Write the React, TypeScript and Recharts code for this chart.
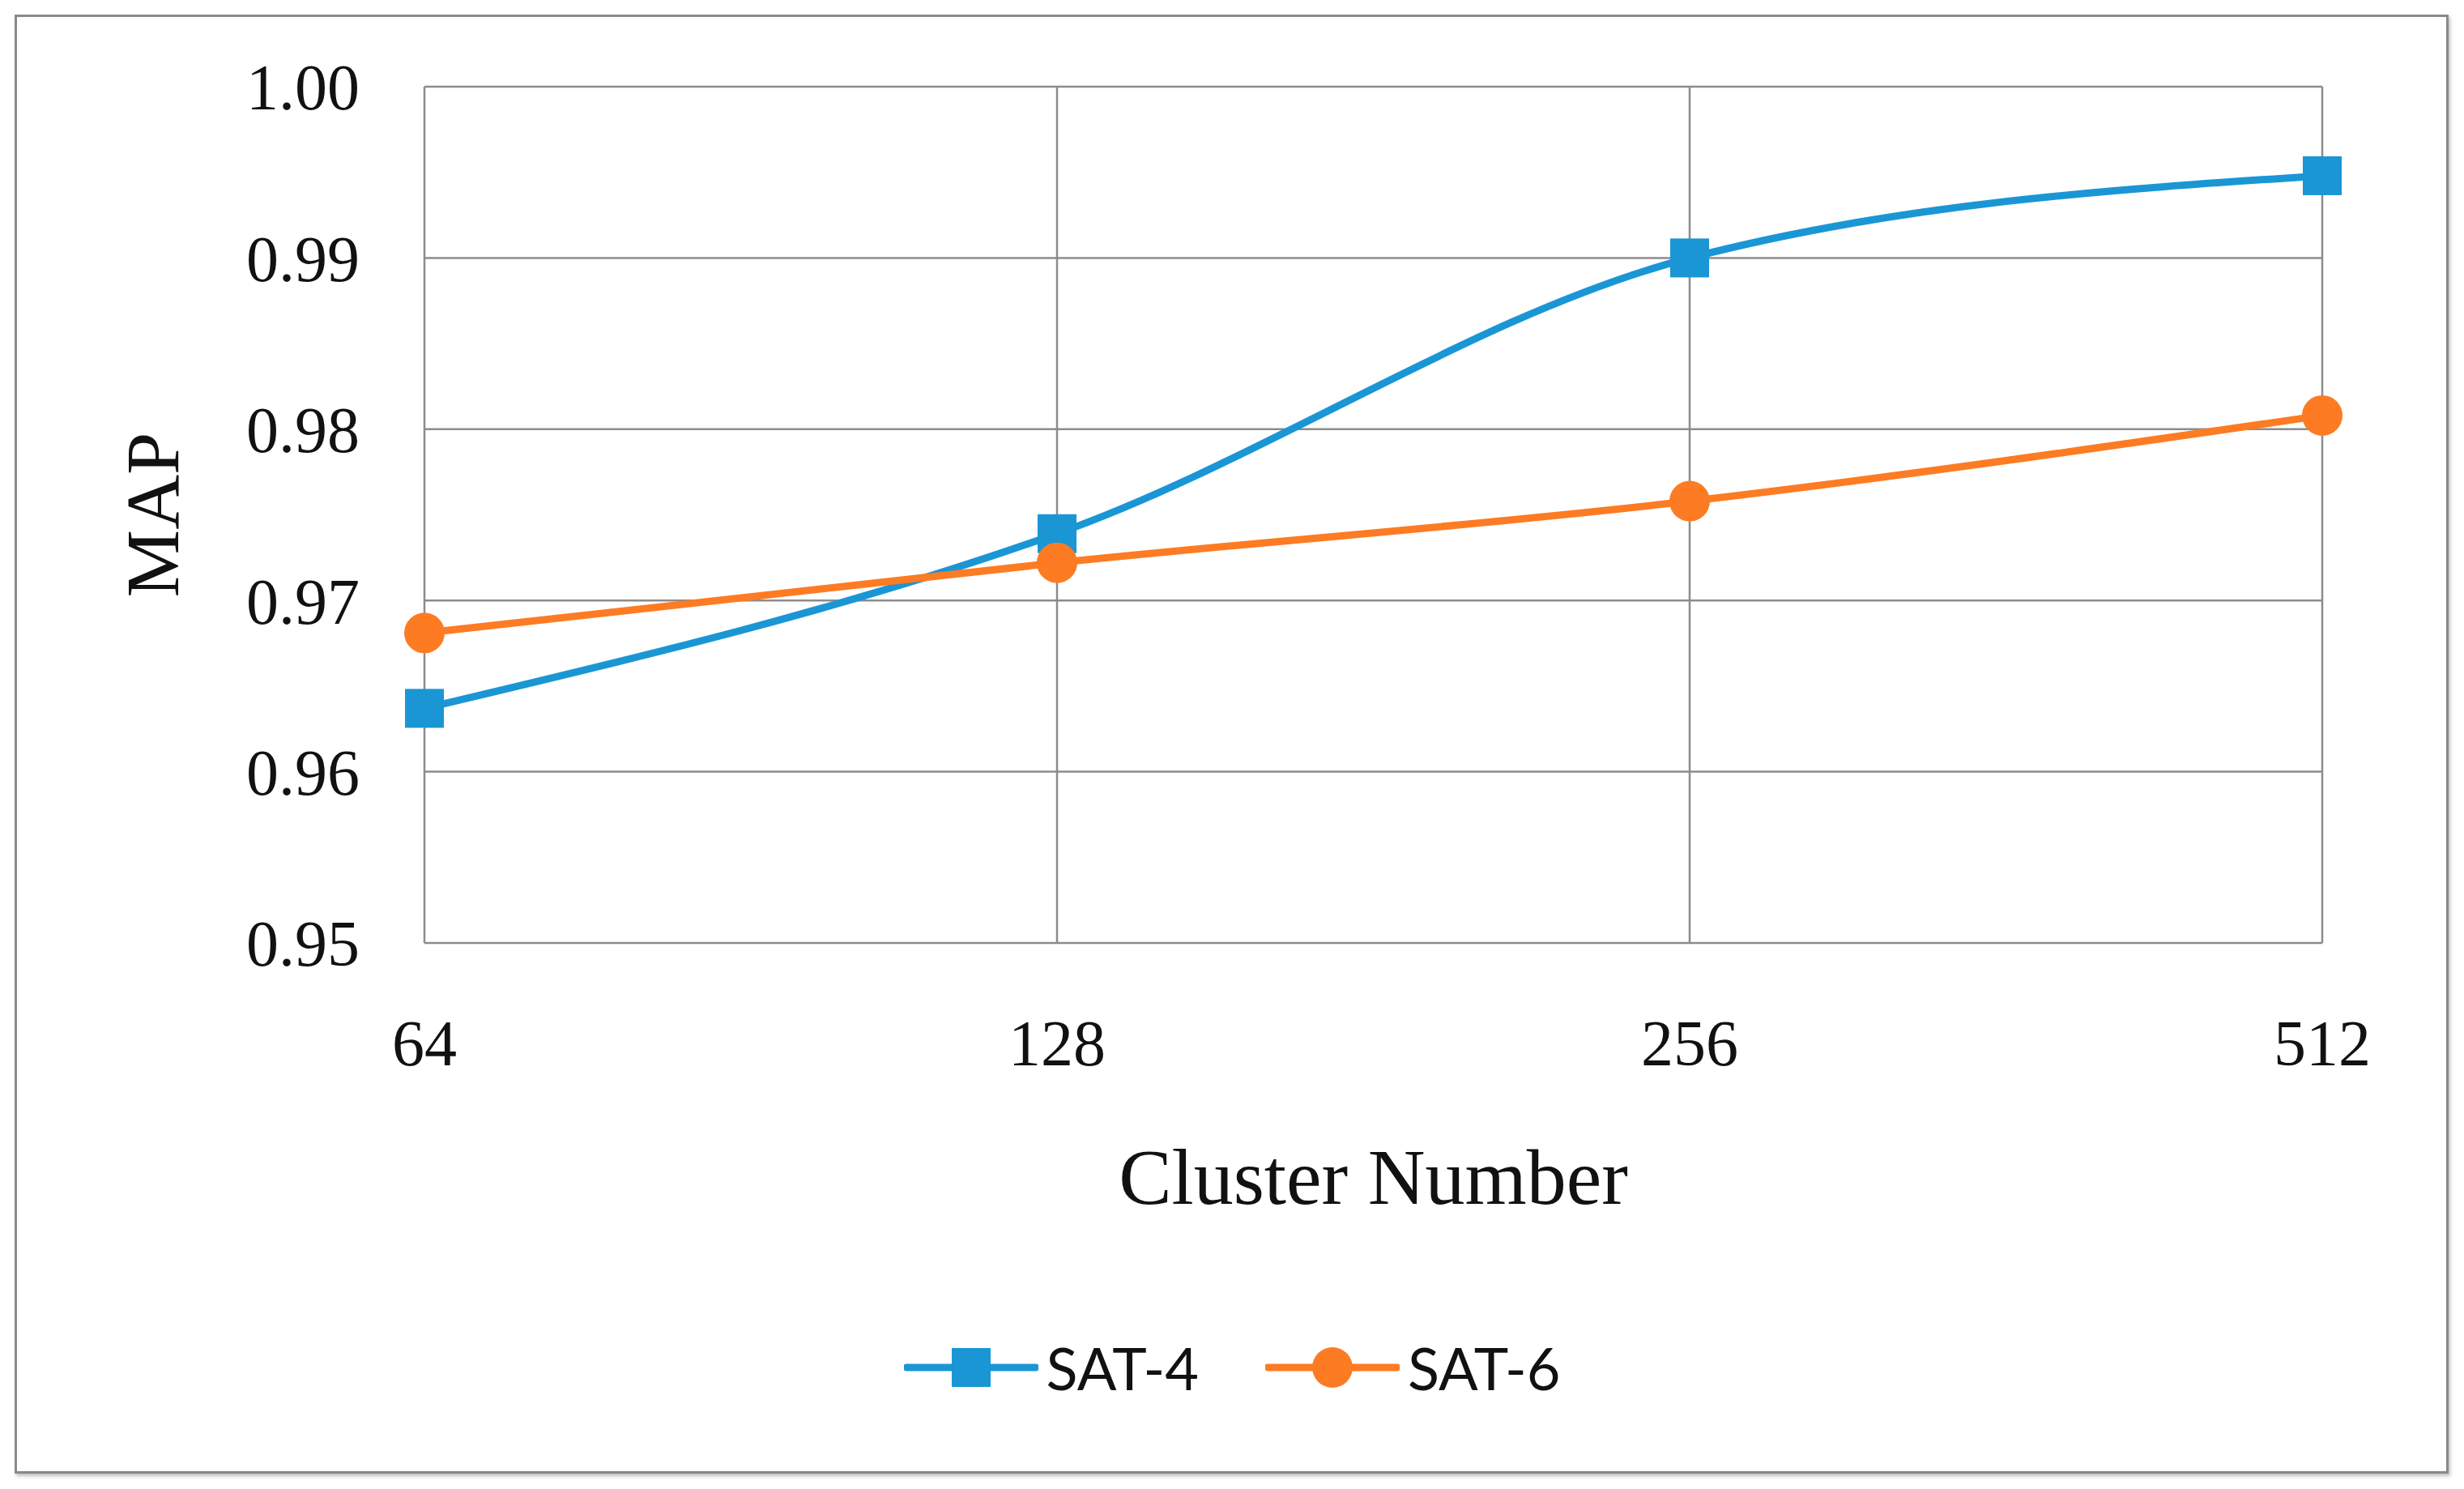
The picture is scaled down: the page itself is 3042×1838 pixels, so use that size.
import React from 'react';
import { LineChart, Line, XAxis, YAxis, CartesianGrid, Legend, Label } from 'recharts';

const clusters = ['64', '128', '256', '512'];
const sat4 = [0.9637, 0.9739, 0.99, 0.9948];
const sat6 = [0.9681, 0.9722, 0.9758, 0.9808];
const yTicks = [0.95, 0.96, 0.97, 0.98, 0.99, 1.0];

const BLUE = '#1A96D5';
const ORANGE = '#FD7B23';
const GRID = '#8C8C8C';
const SERIF = '"Liberation Serif", "Times New Roman", serif';

const data = clusters.map((c, i) => ({ cluster: c, sat4: sat4[i], sat6: sat6[i] }));

const SquareDot = (props: any) => {
  const { cx, cy, index } = props;
  if (cx == null || cy == null) return null;
  return <rect key={`sq-${index}`} x={cx - 24} y={cy - 24} width={48} height={48} fill={BLUE} />;
};

const LegendBox = () => {
  const items = [
    { name: 'SAT-4', color: BLUE, shape: 'square' },
    { name: 'SAT-6', color: ORANGE, shape: 'circle' },
  ];
  return (
    <div style={{ display: 'flex', justifyContent: 'center', alignItems: 'center', gap: 82 }}>
      {items.map(it => (
        <div key={it.name} style={{ display: 'flex', alignItems: 'center' }}>
          <svg width={166} height={60}>
            <line x1={3} y1={30} x2={163} y2={30} stroke={it.color} strokeWidth={9} strokeLinecap="round" />
            {it.shape === 'square'
              ? <rect x={59} y={6} width={48} height={48} fill={it.color} />
              : <circle cx={83} cy={30} r={25} fill={it.color} />}
          </svg>
          <span style={{ fontFamily: 'Lato, "Open Sans", sans-serif', fontSize: 72, color: '#111', marginLeft: 10 }}>
            {it.name}
          </span>
        </div>
      ))}
    </div>
  );
};

export default function App() {
  return (
    <div style={{ position: 'absolute', left: 0, top: 0, width: 3042, height: 1838, background: '#fff' }}>
      <div
        style={{
          position: 'absolute', left: 18, top: 18, width: 2999, height: 1795,
          border: '3px solid #8a8a8a', boxShadow: '2px 3px 4px rgba(0,0,0,0.25)', background: '#fff',
        }}
      />
      <div style={{ position: 'absolute', left: 0, top: 0 }}>
        <LineChart width={3042} height={1838} data={data} margin={{ top: 107, right: 175, left: 0, bottom: 0 }}>
          <CartesianGrid stroke={GRID} strokeWidth={2.5} />
          <XAxis
            dataKey="cluster"
            height={674}
            axisLine={false}
            tickLine={false}
            tickMargin={88}
            tick={{ fontFamily: SERIF, fontSize: 80, fill: '#111' }}
          >
            <Label
              content={(p: any) => {
                const vb = p.viewBox;
                return (
                  <text x={vb.x + vb.width / 2} y={vb.y + 322} textAnchor="middle" fontFamily={SERIF} fontSize={98} fill="#111">
                    Cluster Number
                  </text>
                );
              }}
            />
          </XAxis>
          <YAxis
            width={524}
            domain={[0.95, 1.0]}
            ticks={yTicks}
            interval={0}
            axisLine={false}
            tickLine={false}
            tickMargin={74}
            tickFormatter={(v: number) => v.toFixed(2)}
            tick={{ fontFamily: SERIF, fontSize: 80, fill: '#111' }}
          >
            <Label
              content={(p: any) => {
                const vb = p.viewBox;
                const cx = vb.x + 188;
                const cy = vb.y + vb.height / 2;
                return (
                  <text x={cx} y={cy} transform={`rotate(-90 ${cx} ${cy})`} textAnchor="middle" dominantBaseline="central" fontFamily={SERIF} fontSize={94} fill="#111">
                    MAP
                  </text>
                );
              }}
            />
          </YAxis>
          <Legend
            verticalAlign="middle"
            content={() => <LegendBox />}
            wrapperStyle={{ left: 0, width: 3042, top: 1645 }}
          />
          <Line
            type="monotone"
            dataKey="sat4"
            name="SAT-4"
            stroke={BLUE}
            strokeWidth={9}
            dot={<SquareDot />}
            activeDot={false}
            isAnimationActive={false}
          />
          <Line
            type="monotone"
            dataKey="sat6"
            name="SAT-6"
            stroke={ORANGE}
            strokeWidth={9}
            dot={{ r: 25, fill: ORANGE, stroke: 'none' }}
            activeDot={false}
            isAnimationActive={false}
          />
        </LineChart>
      </div>
    </div>
  );
}
